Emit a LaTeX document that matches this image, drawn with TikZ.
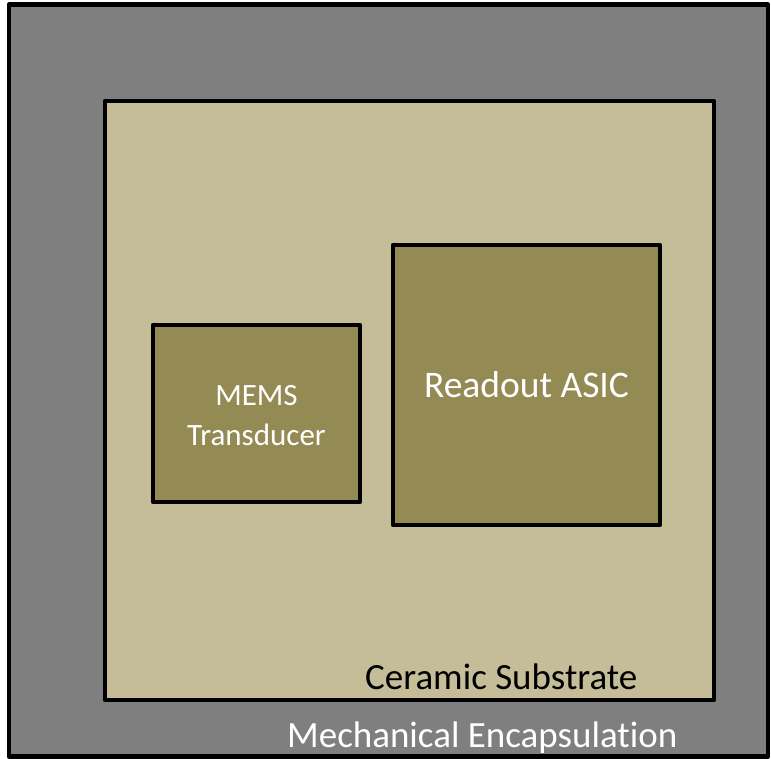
\documentclass[tikz,border=0pt]{standalone}
\usepackage{fontspec}
\setmainfont{Carlito}[Ligatures=NoCommon]
\definecolor{encgray}{RGB}{127,127,127}
\definecolor{ceramic}{RGB}{196,189,151}
\definecolor{chip}{RGB}{148,138,84}
\begin{document}
\begin{tikzpicture}[x=1pt,y=-1pt,
  block/.style={draw=black,line width=4.5pt,rectangle,inner sep=0pt,line join=round},
  lbl/.style={inner sep=0pt,font=\fontsize{37}{44}\selectfont}]
\useasboundingbox (0,0) rectangle (771,759);
\node[block,fill=encgray,minimum width=759pt,minimum height=752pt] (enc) at (388.5,380.5) {};
\node[block,fill=ceramic,minimum width=609pt,minimum height=599pt] (sub) at (409.5,400.5) {};
\node[block,fill=chip,minimum width=207pt,minimum height=177pt] (mems) at (256.5,413.5) {};
\node[block,fill=chip,minimum width=267pt,minimum height=280pt] (asic) at (526.5,385) {};
\node[lbl,text=white,align=center,font=\fontsize{31}{40}\selectfont] (memst) at (256.5,416) {MEMS\\Transducer};
\node[lbl,text=white,anchor=base,font=\fontsize{37.5}{44}\selectfont] (asict) at (526.5,397) {Readout ASIC};
\node[lbl,text=black,anchor=base west] (subt) at (365,689) {Ceramic Substrate};
\node[lbl,text=white,anchor=base west] (enct) at (287,747) {Mechanical Encapsulation};
\end{tikzpicture}
\end{document}
